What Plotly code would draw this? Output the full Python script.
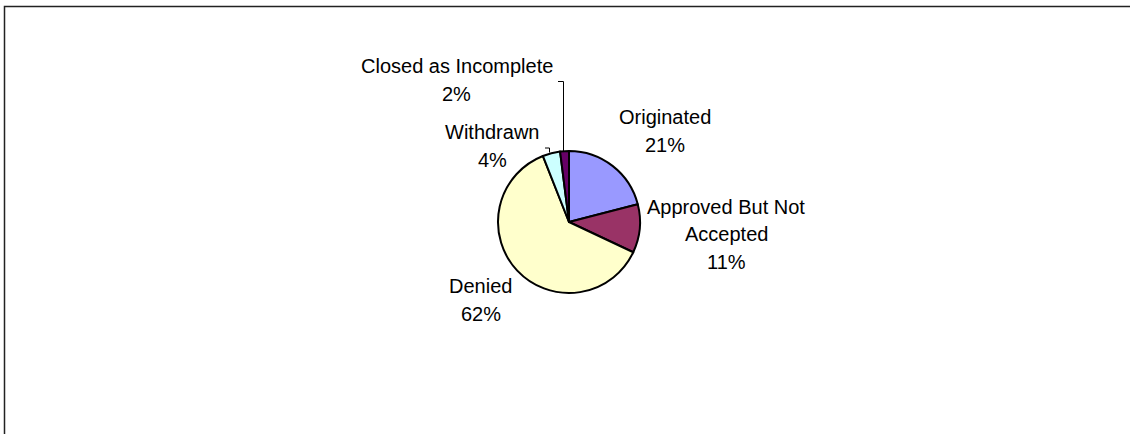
import textwrap
import plotly.graph_objects as go

W, H = 1130, 434

# Application outcomes (share of applications, %)
categories = ["Originated", "Approved But Not Accepted", "Denied", "Withdrawn", "Closed as Incomplete"]
shares = [21, 11, 62, 4, 2]
colors = ["#9999FF", "#993366", "#FFFFCC", "#CCFFFF", "#660066"]

# Label placement (pixel centres of each label block) and wrap widths
label_xy = [(665, 131), (726, 234), (481, 300), (492, 146), (457, 80)]
wrap_width = [40, 16, 40, 40, 40]
LINE_GAP = 27.5

# Pie geometry in pixels
cx, cy, r = 569, 222, 71


def px(x):
    return x / W


def py(y):
    return 1 - y / H


fig = go.Figure()
fig.add_trace(go.Pie(
    labels=categories,
    values=shares,
    sort=False,
    direction="clockwise",
    rotation=0,
    textinfo="none",
    hoverinfo="label+percent",
    marker=dict(colors=colors, line=dict(color="#000000", width=2)),
    domain=dict(x=[px(cx - r), px(cx + r)], y=[py(cy + r), py(cy - r)]),
    showlegend=False,
))

font = dict(family="Arial, Liberation Sans, sans-serif", size=20, color="#000000")
annotations = []
for name, val, (x, y), ww in zip(categories, shares, label_xy, wrap_width):
    lines = textwrap.wrap(name, ww) + [f"{val}%"]
    top = y - LINE_GAP * (len(lines) - 1) / 2
    for i, line in enumerate(lines):
        annotations.append(dict(
            x=px(x), y=py(top + i * LINE_GAP), xref="paper", yref="paper",
            xanchor="center", yanchor="middle", text=line, showarrow=False,
            font=font,
        ))

shapes = [
    # chart area frame (continues past the right and bottom edges)
    dict(type="rect", xref="paper", yref="paper", x0=px(4.5), x1=px(W + 50), y0=py(6.5), y1=py(H + 50),
         line=dict(color="#222222", width=1.5), fillcolor="rgba(0,0,0,0)", layer="below"),
    # leader line for "Closed as Incomplete"
    dict(type="path", xref="paper", yref="paper",
         path=f"M {px(558)} {py(81.5)} L {px(563.5)} {py(81.5)} L {px(563.5)} {py(151)}",
         line=dict(color="#000000", width=1)),
    # leader line for "Withdrawn"
    dict(type="path", xref="paper", yref="paper",
         path=f"M {px(545)} {py(148)} L {px(549.5)} {py(148)} L {px(549.5)} {py(152.5)}",
         line=dict(color="#000000", width=1)),
]

fig.update_layout(
    width=W, height=H,
    margin=dict(l=0, r=0, t=0, b=0),
    paper_bgcolor="#FFFFFF", plot_bgcolor="#FFFFFF",
    annotations=annotations, shapes=shapes,
)

fig.write_html("out.html")
